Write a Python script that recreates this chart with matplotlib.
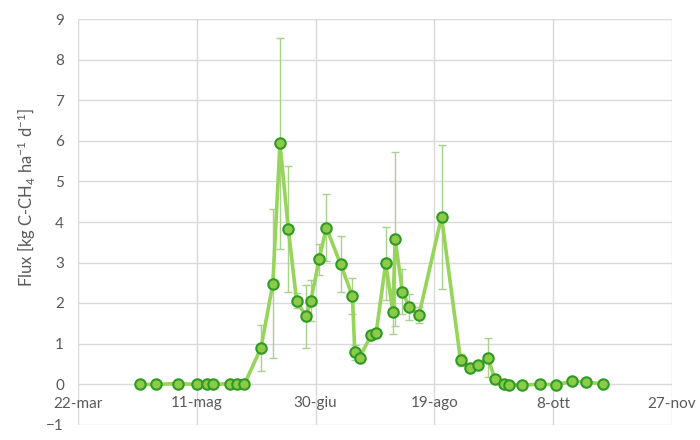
import matplotlib
matplotlib.use("Agg")
import matplotlib.pyplot as plt

# day of year (non-leap year) of each sampling
days = [107, 114, 123, 131, 135.5, 138, 145, 148, 151, 158, 163, 166, 169.5, 173,
        177, 179, 182.5, 185.5, 191.5, 196.5, 197.5, 199.5, 204.5, 206.5, 210.5,
        213.5, 214.5, 217.5, 220.5, 224.5, 234, 242, 246, 249.5, 253.5, 256.5,
        260.5, 262.5, 268, 275.5, 282, 289, 295, 302]
flux = [-0.01, -0.01, 0.01, -0.01, -0.01, -0.01, 0.01, -0.01, -0.01, 0.89, 2.47,
        5.94, 3.83, 2.06, 1.67, 2.06, 3.08, 3.86, 2.96, 2.17, 0.78, 0.65, 1.22,
        1.27, 2.98, 1.79, 3.58, 2.28, 1.90, 1.70, 4.13, 0.59, 0.40, 0.46, 0.65,
        0.12, 0.01, -0.02, -0.03, 0.0, -0.02, 0.07, 0.05, 0.0]
err = [0.01, 0.01, 0.01, 0.01, 0.01, 0.01, 0.01, 0.01, 0.01, 0.56, 1.84,
       2.6, 1.55, 0.19, 0.77, 0.5, 0.38, 0.83, 0.7, 0.44, 0.19, 0.05, 0.05,
       0.05, 0.9, 0.56, 2.15, 0.55, 0.31, 0.2, 1.78, 0.15, 0.05, 0.05, 0.48,
       0.05, 0.01, 0.01, 0.01, 0.01, 0.01, 0.01, 0.01, 0.01]

tick_days = [81, 131, 181, 231, 281, 331]
tick_labels = ["22-mar", "11-mag", "30-giu", "19-ago", "8-ott", "27-nov"]
y_ticks = [-1, 0, 1, 2, 3, 4, 5, 6, 7, 8, 9]

plt.rcParams['font.family'] = ['Lato', 'DejaVu Sans']
plt.rcParams['mathtext.default'] = 'regular'

txt = "#595959"
fig = plt.figure(figsize=(7, 4.4), dpi=100)
ax = fig.add_axes([78/700, 1-424.5/440, 594/700, 405/440])

ax.errorbar(days, flux, yerr=err, fmt='none', ecolor='#A9D18E', elinewidth=1,
            capsize=3, capthick=1, zorder=2)
ax.plot(days, flux, color='#97D45A', lw=2.6, zorder=3)
ax.plot(days, flux, linestyle='none', marker='o', markersize=7.5,
        markerfacecolor='#8CCB4A', markeredgecolor='#2E9A22', markeredgewidth=1.5,
        zorder=4)

ax.set_xlim(81, 331)
ax.set_ylim(-1, 9)
ax.set_xticks(tick_days)
ax.set_xticklabels(tick_labels)
ax.set_yticks(y_ticks)
ax.grid(True, color='#D9D9D9', lw=1)
ax.set_axisbelow(True)
for s in ['top', 'right', 'left']:
    ax.spines[s].set_visible(False)
ax.spines['bottom'].set_position(('data', 0))
ax.spines['bottom'].set_visible(False)
ax.tick_params(axis='both', length=0, labelsize=11, labelcolor=txt)
ax.tick_params(axis='x', pad=9)
ax.tick_params(axis='y', pad=10)

ax.set_ylabel(r'Flux [kg C-CH$_4$ ha$^{-1}$ d$^{-1}$]', fontsize=12, color=txt)
ax.yaxis.set_label_coords(-0.068, 0.56)

fig.savefig("out.png", dpi=100)
